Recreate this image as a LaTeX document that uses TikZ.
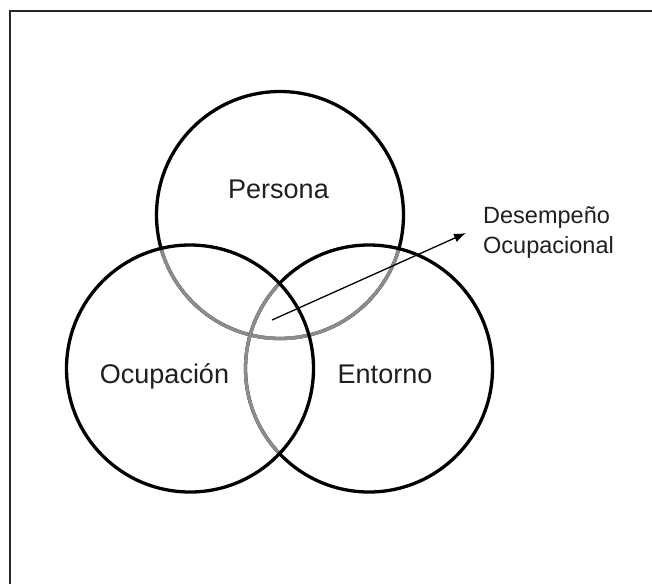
\documentclass[tikz,border=0pt]{standalone}
\usepackage{fontspec}
\setmainfont{Liberation Sans}
\usetikzlibrary{arrows.meta}
\begin{document}
\begin{tikzpicture}[x=1pt,y=-1pt,
  ring/.style={line width=3.3pt,draw=black},
  ringgray/.style={line width=3.3pt,draw=black!45},
  lbl/.style={font=\fontsize{27}{30}\selectfont,text=black!88,inner sep=0pt,anchor=base},
  small/.style={font=\fontsize{23.5}{30}\selectfont,text=black!88,inner sep=0pt,anchor=base west},
  frame/.style={line width=2pt,draw=black!85}]
\useasboundingbox (0,0) rectangle (652,584);
\fill[white] (0,0) rectangle (652,584);
\draw[frame] (10,584) -- (10,11) -- (652,11);
\coordinate (P) at (280,215);
\coordinate (O) at (190,368.5);
\coordinate (E) at (369,368.5);
% Persona
\draw[ring] (P) circle[radius=123.5pt];
\begin{scope}
  \clip (O) circle[radius=123.5pt];
  \draw[ringgray] (P) circle[radius=123.5pt];
\end{scope}
\begin{scope}
  \clip (E) circle[radius=123.5pt];
  \draw[ringgray] (P) circle[radius=123.5pt];
\end{scope}
% Entorno
\draw[ring] (E) circle[radius=123.5pt];
\begin{scope}
  \clip (O) circle[radius=123.5pt];
  \draw[ringgray] (E) circle[radius=123.5pt];
\end{scope}
% Ocupacion
\draw[ring] (O) circle[radius=123.5pt];
% labels
\node[lbl] (persona) at (278.5,198) {Persona};
\node[lbl] (ocup) at (164.5,383) {Ocupación};
\node[lbl] (ent) at (385,383) {Entorno};
\node[small] (dp1) at (483,223) {Desempeño};
\node[small] (dp2) at (483,253) {Ocupacional};
% arrow
\coordinate (start) at (272,320);
\coordinate (tip) at (466,233);
\draw[line width=1.3pt,-{Latex[length=12pt,width=9pt]}] (start) -- (tip);
\end{tikzpicture}
\end{document}
